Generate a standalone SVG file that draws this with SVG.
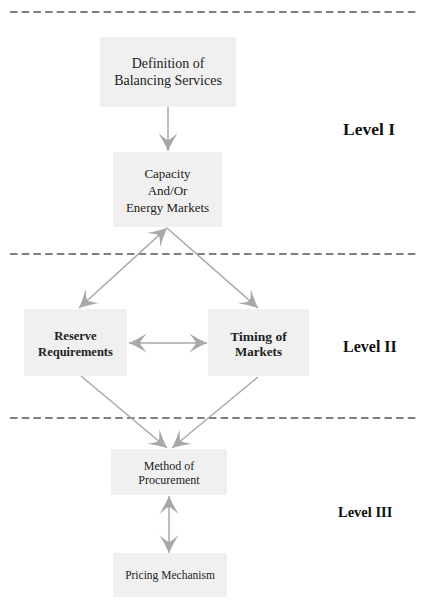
<svg xmlns="http://www.w3.org/2000/svg" width="422" height="605" viewBox="0 0 422 605">
<style>
.box{fill:#f0f0f0;stroke:none}
.t{font-family:"Liberation Serif","Times New Roman",serif;fill:#222;text-anchor:middle}
.b{font-weight:bold}
.lvl{font-family:"Liberation Serif","Times New Roman",serif;font-weight:bold;fill:#111}
.dash{stroke:#555;stroke-width:1.3;stroke-dasharray:7.5 4.2;fill:none}
.c{stroke:#a8a8a8;stroke-width:1.5;fill:none;marker-end:url(#ah)}
.d{marker-start:url(#ah)}
</style>
<defs>
<marker id="ah" markerUnits="userSpaceOnUse" viewBox="-20 -10 21 20" refX="0" refY="0" markerWidth="21" markerHeight="20" orient="auto-start-reverse">
<path d="M0,0 Q-9,-4 -18,-9.5 Q-12,-3 -11,0 Q-12,3 -18,9.5 Q-9,4 0,0 Z" fill="#a8a8a8"/>
</marker>
</defs>
<g id="separators">
<line class="dash" x1="10" y1="12" x2="418" y2="12"/>
<line class="dash" x1="10" y1="254" x2="418" y2="254"/>
<line class="dash" x1="10" y1="418" x2="418" y2="418"/>
</g>
<g id="connectors">
<line class="c" x1="168" y1="107" x2="168" y2="151"/>
<line class="c d" x1="167" y1="228" x2="79" y2="308"/>
<line class="c" x1="167" y1="228" x2="258" y2="308"/>
<line class="c d" x1="129" y1="343" x2="207" y2="343"/>
<line class="c" x1="81" y1="376" x2="167" y2="448"/>
<line class="c" x1="258" y1="377" x2="172" y2="448"/>
<line class="c d" x1="169" y1="496" x2="169" y2="553"/>
</g>
<g id="definition">
<rect class="box" x="100" y="37" width="136" height="70"/>
<text class="t" x="168" y="68" font-size="14">Definition of</text>
<text class="t" x="168" y="85" font-size="14">Balancing Services</text>
</g>
<g id="capacity">
<rect class="box" x="113" y="152" width="109" height="75"/>
<text class="t" x="167.5" y="178" font-size="13">Capacity</text>
<text class="t" x="167.5" y="195" font-size="13">And/Or</text>
<text class="t" x="167.5" y="212" font-size="13">Energy Markets</text>
</g>
<g id="reserve">
<rect class="box" x="24" y="309" width="103" height="67"/>
<text class="t b" x="75.5" y="340" font-size="12.5">Reserve</text>
<text class="t b" x="75.5" y="356" font-size="12.5">Requirements</text>
</g>
<g id="timing">
<rect class="box" x="208" y="309" width="101" height="67"/>
<text class="t b" x="258.5" y="340.5" font-size="13.5">Timing of</text>
<text class="t b" x="258.5" y="356" font-size="13">Markets</text>
</g>
<g id="method">
<rect class="box" x="111" y="449" width="116" height="46"/>
<text class="t" x="169" y="470" font-size="12">Method of</text>
<text class="t" x="169" y="484" font-size="12">Procurement</text>
</g>
<g id="pricing">
<rect class="box" x="113" y="553" width="114" height="44"/>
<text class="t" x="170" y="579" font-size="11.5">Pricing Mechanism</text>
</g>
<g id="levels">
<text class="lvl" x="343" y="135" font-size="17.5">Level I</text>
<text class="lvl" x="343" y="352" font-size="16">Level II</text>
<text class="lvl" x="338" y="517" font-size="14.5">Level III</text>
</g>
</svg>
